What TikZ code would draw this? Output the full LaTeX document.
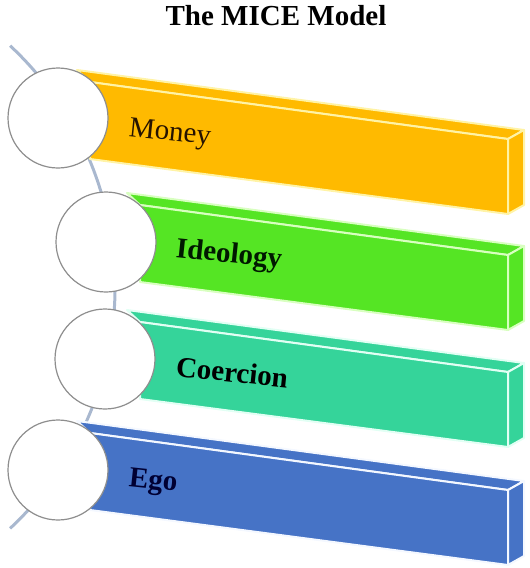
\documentclass[tikz,border=0pt]{standalone}
\usepackage{fontspec}
\setmainfont{Liberation Serif}
\definecolor{cOrange}{HTML}{FFBA00}
\definecolor{eOrange}{HTML}{FFF3A6}
\definecolor{cGreen}{HTML}{55E524}
\definecolor{eGreen}{HTML}{D8FFC0}
\definecolor{cTeal}{HTML}{35D49A}
\definecolor{eTeal}{HTML}{E2FFF4}
\definecolor{cBlue}{HTML}{4673C6}
\definecolor{eBlue}{HTML}{F4F8FF}
\definecolor{vine}{HTML}{A9B8CF}
\definecolor{ring}{HTML}{8E8E8E}
\tikzset{
  face/.style={line width=1pt, line join=round},
  disc/.style={circle, draw=ring, fill=white, line width=0.6pt, minimum size=50pt, inner sep=0pt},
  lbl/.style={anchor=base west, rotate=-6, inner sep=0pt, font=\fontsize{14.5}{17}\selectfont},
  ttl/.style={anchor=base, inner sep=0pt, font=\fontsize{14.5}{17}\selectfont\bfseries}
}
\begin{document}
\begin{tikzpicture}[x=0.5pt,y=-0.5pt]
\useasboundingbox (0,0) rectangle (530,568);
% title
\node[ttl] (title) at (276,25) {The MICE Model};
% vine arc
\coordinate (vtop) at (10.1,45.7);
\draw[vine, line width=1.5pt] (vtop) arc[start angle=-47, end angle=47, radius=330];
% bar 1 Money
\fill[cOrange] (77,70) -- (524,130) -- (524,205) -- (508,214) -- (90,159) -- (90,82) -- cycle;
\draw[face, draw=eOrange, fill=cOrange] (77,70) -- (524,130) -- (508,139) -- (90,82) -- cycle;
\draw[face, draw=eOrange, fill=cOrange] (90,82) -- (508,139) -- (508,214) -- (90,159) -- cycle;
\draw[face, draw=eOrange, fill=cOrange] (508,139) -- (524,130) -- (524,205) -- (508,214) -- cycle;
% bar 2 Ideology
\draw[face, draw=eGreen, fill=cGreen] (127,193) -- (524,246) -- (508,255) -- (140,205) -- cycle;
\draw[face, draw=eGreen, fill=cGreen] (140,205) -- (508,255) -- (508,330) -- (140,282) -- cycle;
\draw[face, draw=eGreen, fill=cGreen] (508,255) -- (524,246) -- (524,321) -- (508,330) -- cycle;
% bar 3 Coercion
\draw[face, draw=eTeal, fill=cTeal] (127,310) -- (524,363) -- (508,372) -- (140,322) -- cycle;
\draw[face, draw=eTeal, fill=cTeal] (140,322) -- (508,372) -- (508,447) -- (140,399) -- cycle;
\draw[face, draw=eTeal, fill=cTeal] (508,372) -- (524,363) -- (524,438) -- (508,447) -- cycle;
% bar 4 Ego
\draw[face, draw=eBlue, fill=cBlue] (77,421) -- (524,481) -- (508,490) -- (90,433) -- cycle;
\draw[face, draw=eBlue, fill=cBlue] (90,433) -- (508,490) -- (508,565) -- (90,510) -- cycle;
\draw[face, draw=eBlue, fill=cBlue] (508,490) -- (524,481) -- (524,556) -- (508,565) -- cycle;
% circles
\node[disc] (c1) at (58,118) {};
\node[disc] (c2) at (106,242) {};
\node[disc] (c3) at (105,359) {};
\node[disc] (c4) at (58,470) {};
% labels
\node[lbl, text={black!85!orange}] (money) at (128,136) {Money};
\node[lbl, text={black!90!green}, font=\fontsize{14.5}{17}\selectfont\bfseries] (ideology) at (175,257) {Ideology};
\node[lbl, text=black, font=\fontsize{14.5}{17}\selectfont\bfseries] (coercion) at (175,376) {Coercion};
\node[lbl, text={black!80!blue}, font=\fontsize{14.5}{17}\selectfont\bfseries] (ego) at (128,486) {Ego};
\end{tikzpicture}
\end{document}
